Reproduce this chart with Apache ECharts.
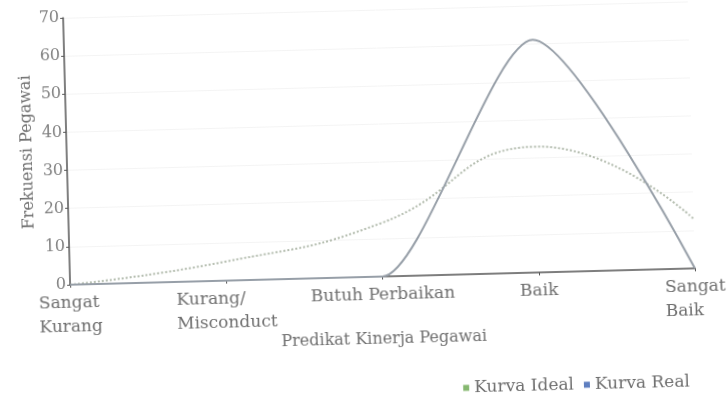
<!DOCTYPE html>
<html><head><meta charset="utf-8">
<script src="https://cdn.jsdelivr.net/npm/echarts@6/dist/echarts.min.js"></script>
<style>html,body{margin:0;padding:0;background:#fff;overflow:hidden}#c{width:728px;height:401px;transform:rotate(-1.5deg);transform-origin:364px 200px}</style>
</head><body><div id="c"></div>
<script>
const categories = ['Sangat\nKurang', 'Kurang/\nMisconduct', 'Butuh Perbaikan', 'Baik', 'Sangat\nBaik'];
const kurvaIdeal = [0, 5, 14, 33, 13];
const kurvaReal = [0, 0, 0, 61, 0];
const yTicks = { min: 0, max: 70, interval: 10 };

const font = 'DejaVu Serif';
const txt = '#6f6f6f';
const chart = echarts.init(document.getElementById('c'));
chart.setOption({
  animation: false,
  grid: { left: 68, right: 35, top: 10, bottom: 124, containLabel: false, outerBoundsMode: 'none' },
  legend: {
    right: 43, top: 382, padding: 0, itemWidth: 6, itemHeight: 6, itemGap: 10,
    textStyle: { fontFamily: font, fontSize: 17, color: txt },
    data: [{ name: 'Kurva Ideal', icon: 'rect' }, { name: 'Kurva Real', icon: 'rect' }]
  },
  xAxis: {
    type: 'category', boundaryGap: false, data: categories,
    name: 'Predikat Kinerja Pegawai', nameLocation: 'middle', nameGap: 55, nameMoveOverlap: false,
    nameTextStyle: { fontFamily: font, fontSize: 16, color: txt },
    axisLine: { lineStyle: { color: '#555', width: 1.5 } },
    axisTick: { show: true, alignWithLabel: true, length: 3, lineStyle: { color: '#555' } },
    axisLabel: {
      interval: 0, margin: 7, align: 'center',
      formatter: v => v.split('\n').map(l => '{l|' + l + '}').join('\n'),
      rich: { l: { align: 'left', fontFamily: font, fontSize: 17, color: txt, lineHeight: 24 } }
    },
    splitLine: { show: false }
  },
  yAxis: {
    type: 'value', min: yTicks.min, max: yTicks.max, interval: yTicks.interval,
    name: 'Frekuensi Pegawai', nameLocation: 'middle', nameGap: 31, nameRotate: 90, nameMoveOverlap: false,
    nameTextStyle: { fontFamily: font, fontSize: 16, color: txt },
    axisLine: { show: true, lineStyle: { color: '#555', width: 1.5 } },
    axisTick: { show: true, length: 3, lineStyle: { color: '#555' } },
    axisLabel: { fontFamily: font, fontSize: 16, color: '#808080', margin: 4 },
    splitLine: { show: true, lineStyle: { color: '#f4f4f4' } }
  },
  series: [
    {
      name: 'Kurva Ideal', type: 'line', data: kurvaIdeal, smooth: 0.5, symbol: 'none',
      itemStyle: { color: '#86b870' },
      lineStyle: { color: '#b3bcae', width: 2, type: 'dotted' }
    },
    {
      name: 'Kurva Real', type: 'line', data: kurvaReal, smooth: 0.25, smoothMonotone: 'x', symbol: 'none',
      itemStyle: { color: '#5f7fc0' },
      lineStyle: { color: '#979fa8', width: 2 }
    }
  ]
});
</script></body></html>
